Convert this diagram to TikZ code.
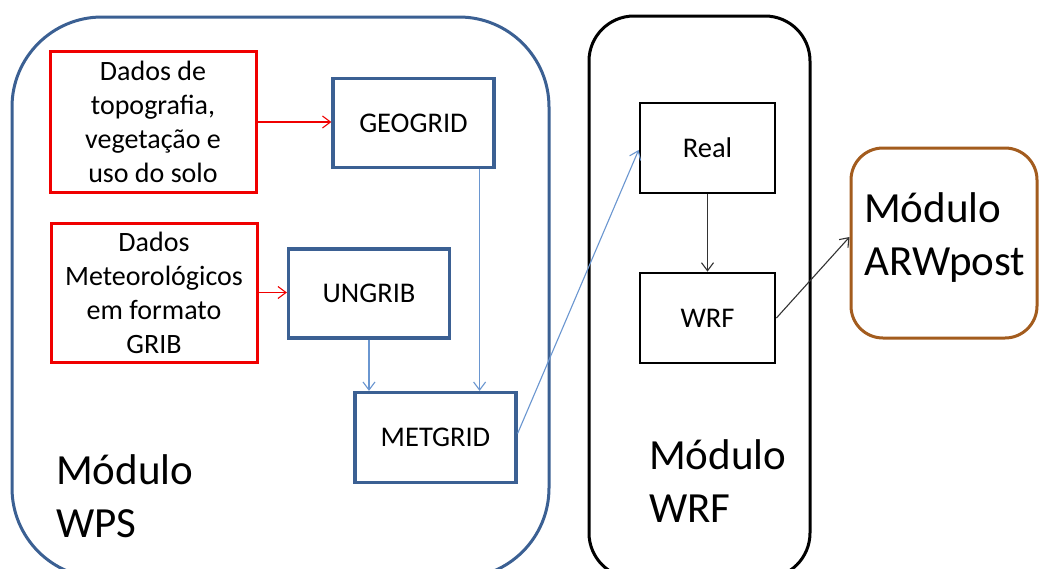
\documentclass[tikz,border=0pt]{standalone}
\usepackage{fontspec}
\setmainfont{Carlito}
\usetikzlibrary{arrows.meta,calc}

\definecolor{boxblue}{HTML}{3B6093}
\definecolor{lineblue}{HTML}{6A96D0}
\definecolor{boxred}{HTML}{F00000}
\definecolor{boxbrown}{HTML}{A35C1E}

\tikzset{
  module/.style={line width=3pt, rounded corners=#1},
  stepblue/.style={draw=boxblue, line width=3.2pt, minimum width=#1, inner sep=0pt,
    font=\fontsize{28.5}{34}\selectfont},
  stepblack/.style={draw=black, line width=2.8pt, minimum width=135pt, minimum height=90pt,
    inner sep=0pt, font=\fontsize{28.5}{34}\selectfont},
  databox/.style={draw=boxred, line width=3pt, minimum width=206pt, inner sep=0pt,
    align=center, font=\fontsize{28}{34}\selectfont},
  bigtext/.style={anchor=base west, inner sep=0pt, align=left,
    font=\fontsize{43}{53}\selectfont},
  flowblue/.style={draw=lineblue, line width=1.1pt, -{Straight Barb[length=8pt,width=12pt]}},
  flowred/.style={draw=boxred, line width=1.1pt, -{Straight Barb[length=8pt,width=12pt]}},
  flowblack/.style={draw=black!80, line width=1.1pt, -{Straight Barb[length=8pt,width=12pt]}},
}

\begin{document}
\begin{tikzpicture}[x=1pt, y=-1pt]
  \clip (0,0) rectangle (1039,568);
  \fill[white] (0,0) rectangle (1039,568);

  % module frames
  \draw[module=90pt, draw=boxblue] (12,17) rectangle (549,578);
  \draw[module=45pt, draw=black] (589,16) rectangle (810,578);
  \node[module=32pt, draw=boxbrown, minimum width=186pt, minimum height=190pt,
    inner sep=0pt] (arw) at (944,243) {};

  % WPS module
  \node[databox, minimum height=141pt] (topo) at (153,122)
    {Dados de\\topografia,\\vegetação e\\uso do solo};
  \node[databox, minimum height=139pt] (meteo) at (154,292.5)
    {Dados\\Meteorológicos\\em formato\\GRIB};
  \node[stepblue=161pt, minimum height=89pt] (geogrid) at (413.5,123) {GEOGRID};
  \node[stepblue=161pt, minimum height=89pt] (ungrib) at (369,293.5) {UNGRIB};
  \node[stepblue=161pt, minimum height=90pt] (metgrid) at (435.5,437.5) {METGRID};

  % WRF module
  \node[stepblack] (real) at (707.5,148) {Real};
  \node[stepblack] (wrf) at (707.5,318) {WRF};

  % module titles (anchored at the baseline of the last line)
  \node[bigtext] (wpslabel) at (56,537) {Módulo\\WPS};
  \node[bigtext] (wrflabel) at (649,522) {Módulo\\WRF};
  \node[bigtext] (arwlabel) at (864,275) {Módulo\\ARWpost};

  % data flow
  \draw[flowred] (topo.east) -- (topo.east -| geogrid.west);
  \draw[flowred] (meteo.east) -- (meteo.east -| ungrib.west);
  \draw[flowblue] ([xshift=-16pt]geogrid.south east)
    -- ([xshift=-16pt]geogrid.south east |- metgrid.north);
  \draw[flowblue] (ungrib.south) -- (ungrib.south |- metgrid.north);
  \draw[flowblue] ([yshift=4pt]metgrid.east) -- ([yshift=-2pt]real.west);
  \draw[flowblack] (real.south) -- (wrf.north);
  \draw[flowblack] (wrf.east) -- ([yshift=6pt]arw.west);
\end{tikzpicture}
\end{document}
